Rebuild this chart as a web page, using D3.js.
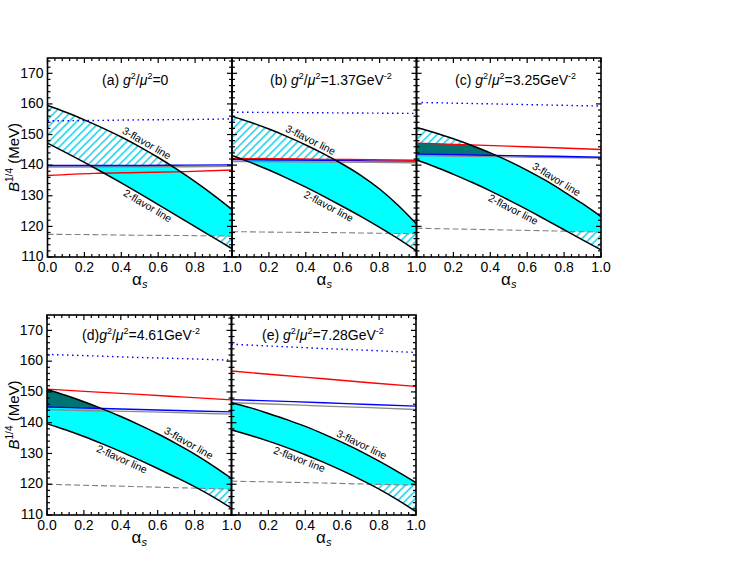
<!DOCTYPE html>
<html><head><meta charset="utf-8">
<script src="https://cdn.jsdelivr.net/npm/d3@7"></script>
<style>body{margin:0;background:#fff} text{font-family:"Liberation Sans",Arial,sans-serif}</style>
</head><body><svg id="c" width="736" height="574"></svg>
<script>
// ---------------- data ----------------
const alphaS = [0, 0.1, 0.2, 0.3, 0.4, 0.5, 0.6, 0.7, 0.8, 0.9, 1.0];
const alphaLine = [0, 0.25, 0.5, 0.75, 1.0];
const panelLetters = ["(a)", "(b)", "(c)", "(d)", "(e)"];
const gSquaredValues = ["0", "1.37", "3.25", "4.61", "7.28"];
const xTickValues = [0, 0.2, 0.4, 0.6, 0.8, 1.0];
const yTickValues = [110, 120, 130, 140, 150, 160, 170];

// 3-flavor and 2-flavor lines (B^1/4 in MeV at alphaS)
const threeFlavorA = [159.5, 157.3, 154.8, 152.1, 149.2, 146.0, 142.5, 138.7, 134.6, 130.2, 125.5];
const twoFlavorA   = [147.2, 144.1, 140.9, 137.6, 134.2, 130.7, 127.1, 123.5, 119.9, 116.3, 112.7];
const threeFlavorB = [156.0, 154.0, 151.8, 149.3, 146.6, 143.6, 140.3, 136.6, 132.2, 126.9, 120.8];
const twoFlavorB   = [143.2, 140.9, 138.4, 135.7, 132.8, 129.7, 126.5, 123.2, 119.7, 116.0, 112.0];
const threeFlavorC = [152.3, 150.6, 148.6, 146.4, 144.0, 141.3, 138.3, 135.0, 131.3, 127.4, 123.2];
const twoFlavorC   = [141.7, 139.5, 137.0, 134.4, 131.6, 128.6, 125.5, 122.2, 118.9, 115.6, 112.3];
const threeFlavorD = [150.8, 148.9, 146.8, 144.5, 142.0, 139.3, 136.4, 133.2, 129.8, 126.0, 121.9];
const twoFlavorD   = [139.7, 137.7, 135.5, 133.1, 130.6, 127.9, 125.1, 122.2, 119.2, 115.9, 112.2];
const threeFlavorE = [146.5, 144.9, 143.0, 141.0, 138.8, 136.3, 133.6, 130.7, 127.5, 124.1, 120.5];
const twoFlavorE   = [137.6, 135.9, 134.0, 131.9, 129.6, 127.1, 124.4, 121.5, 118.4, 114.9, 111.1];

// other lines at alphaLine
const redA    = [136.6, 137.3, 137.6, 137.9, 138.4];
const blueA   = [139.9, 139.9, 139.9, 140.0, 140.1];
const grayA   = [139.4, 139.4, 139.5, 139.5, 139.6];
const dottedA = [154.5, 154.6, 154.8, 154.9, 155.1];
const dashedA = [117.4, 117.3, 117.1, 117.0, 116.8];

const redB    = [142.2, 142.1, 141.9, 141.8, 141.6];
const blueB   = [141.8, 141.7, 141.6, 141.4, 141.3];
const grayB   = [141.2, 141.1, 141.0, 140.9, 140.8];
const dottedB = [157.3, 157.2, 157.1, 157.0, 156.9];
const dashedB = [118.3, 118.1, 118.0, 117.8, 117.6];

const redC    = [147.2, 146.7, 146.2, 145.7, 145.1];
const blueC   = [143.6, 143.4, 143.1, 142.9, 142.6];
const grayC   = [143.1, 142.9, 142.7, 142.5, 142.3];
const dottedC = [160.5, 160.2, 159.9, 159.6, 159.3];
const dashedC = [119.4, 119.1, 118.8, 118.5, 118.1];

const redD    = [150.9, 150.0, 149.2, 148.3, 147.4];
const blueD   = [145.1, 144.7, 144.3, 143.9, 143.5];
const grayD   = [144.3, 143.9, 143.6, 143.2, 142.8];
const dottedD = [162.2, 161.7, 161.2, 160.8, 160.3];
const dashedD = [120.0, 119.6, 119.2, 118.8, 118.4];

const redE    = [156.8, 155.5, 154.3, 153.0, 151.8];
const blueE   = [147.5, 147.0, 146.5, 145.9, 145.4];
const grayE   = [146.5, 146.0, 145.4, 144.9, 144.3];
const dottedE = [165.5, 164.8, 164.1, 163.5, 162.8];
const dashedE = [121.0, 120.7, 120.4, 120.0, 119.7];

const panels = [
  {three: threeFlavorA, two: twoFlavorA, red: redA, blue: blueA, gray: grayA, dotted: dottedA, dashed: dashedA},
  {three: threeFlavorB, two: twoFlavorB, red: redB, blue: blueB, gray: grayB, dotted: dottedB, dashed: dashedB},
  {three: threeFlavorC, two: twoFlavorC, red: redC, blue: blueC, gray: grayC, dotted: dottedC, dashed: dashedC},
  {three: threeFlavorD, two: twoFlavorD, red: redD, blue: blueD, gray: grayD, dotted: dottedD, dashed: dashedD},
  {three: threeFlavorE, two: twoFlavorE, red: redE, blue: blueE, gray: grayE, dotted: dottedE, dashed: dashedE}
];

// ---------------- layout ----------------
const W = 184.5;
const layout = [
  {x0: 47.5, y0: 58, y1: 257, first: true,  titleX: 102, titleY: 85, gap: " "},
  {x0: 232,  y0: 58, y1: 257, first: false, titleX: 270, titleY: 85, gap: " "},
  {x0: 416.5,y0: 58, y1: 257, first: false, titleX: 455, titleY: 85, gap: " "},
  {x0: 47,   y0: 315, y1: 515, first: true, titleX: 82,  titleY: 340, gap: ""},
  {x0: 231.5,y0: 315, y1: 515, first: false,titleX: 262, titleY: 340, gap: " "}
];
// flavor-line label positions along the curves (alpha of label centre)
const labelAlpha = [
  {t3: 0.52, t2: 0.56},
  {t3: 0.41, t2: 0.54},
  {t3: 0.74, t2: 0.54},
  {t3: 0.75, t2: 0.42},
  {t3: 0.69, t2: 0.38}
];

const svg = d3.select("#c");
const defs = svg.append("defs");
const hp = defs.append("pattern").attr("id", "hatch").attr("patternUnits", "userSpaceOnUse")
  .attr("width", 5.5).attr("height", 5.5).attr("patternTransform", "rotate(45)");
hp.append("line").attr("x1", 2.75).attr("y1", -1).attr("x2", 2.75).attr("y2", 6.5)
  .attr("stroke", "#2ed6f0").attr("stroke-width", 1.7);

panels.forEach((p, i) => {
  const L = layout[i];
  const x = d3.scaleLinear().domain([0, 1]).range([L.x0, L.x0 + W]);
  const y = d3.scaleLinear().domain([110, 175]).range([L.y1, L.y0]);
  const g = svg.append("g");

  defs.append("clipPath").attr("id", "plot" + i).append("rect")
    .attr("x", x(0)).attr("y", y(175)).attr("width", W).attr("height", y(110) - y(175));

  const bandArea = d3.area().x((d, j) => x(alphaS[j])).y0((d, j) => y(p.two[j])).y1(d => y(d))
    .curve(d3.curveMonotoneX);
  defs.append("clipPath").attr("id", "band" + i).append("path").attr("d", bandArea(p.three));

  const pg = g.append("g").attr("clip-path", `url(#plot${i})`);
  const bg = pg.append("g").attr("clip-path", `url(#band${i})`);
  bg.append("path").attr("d", bandArea(p.three)).attr("fill", "url(#hatch)");
  const lineArea = (lo, hi) => d3.area().x((d, j) => x(alphaLine[j])).y0((d, j) => y(lo[j]))
    .y1((d, j) => y(hi[j])).curve(d3.curveMonotoneX)(alphaLine);
  bg.append("path").attr("d", lineArea(p.dashed, p.blue)).attr("fill", "#00ffff");
  const upper = p.red.map((r, j) => Math.max(r, p.blue[j]));
  bg.append("path").attr("d", lineArea(p.blue, upper)).attr("fill", "#007373");

  const line = d3.line().x((d, j) => x(alphaLine[j])).y(d => y(d)).curve(d3.curveMonotoneX);
  pg.append("path").attr("d", line(p.dashed)).attr("fill", "none").attr("stroke", "#808080")
    .attr("stroke-width", 1.1).attr("stroke-dasharray", "6,3");
  pg.append("path").attr("d", line(p.dotted)).attr("fill", "none").attr("stroke", "#0000ff")
    .attr("stroke-width", 1.4).attr("stroke-dasharray", "1.5,3.5");
  pg.append("path").attr("d", line(p.gray)).attr("fill", "none").attr("stroke", "#8c8c8c").attr("stroke-width", 1.4);
  pg.append("path").attr("d", line(p.blue)).attr("fill", "none").attr("stroke", "#0000ff").attr("stroke-width", 1.4);
  pg.append("path").attr("d", line(p.red)).attr("fill", "none").attr("stroke", "#ff0000").attr("stroke-width", 1.4);

  const fline = d3.line().x((d, j) => x(alphaS[j])).y(d => y(d)).curve(d3.curveMonotoneX);
  pg.append("path").attr("d", fline(p.three)).attr("fill", "none").attr("stroke", "#000").attr("stroke-width", 1.5);
  pg.append("path").attr("d", fline(p.two)).attr("fill", "none").attr("stroke", "#000").attr("stroke-width", 1.5);

  // flavor labels placed along the curves
  const onCurve = (arr, a) => {
    const j = Math.min(alphaS.length - 2, Math.floor(a * 10));
    const t = (a - alphaS[j]) / (alphaS[j + 1] - alphaS[j]);
    const px0 = x(alphaS[j]), py0 = y(arr[j]), px1 = x(alphaS[j + 1]), py1 = y(arr[j + 1]);
    return {px: px0 + t * (px1 - px0), py: py0 + t * (py1 - py0),
            ang: Math.atan2(py1 - py0, px1 - px0) * 180 / Math.PI};
  };
  const A = labelAlpha[i];
  [[p.three, A.t3, "3-flavor line", -3], [p.two, A.t2, "2-flavor line", 10]].forEach(([arr, a, txt, dy]) => {
    const c = onCurve(arr, a);
    g.append("text").attr("transform", `translate(${c.px},${c.py}) rotate(${c.ang})`)
      .attr("text-anchor", "middle").attr("y", dy).attr("font-size", 10.5).text(txt);
  });

  // frame
  g.append("rect").attr("x", x(0)).attr("y", y(175)).attr("width", W).attr("height", y(110) - y(175))
    .attr("fill", "none").attr("stroke", "#000").attr("stroke-width", 1.6);

  // ticks (inside, all sides)
  const xMinor = d3.range(0, 1.0001, 0.04);
  const yMinor = d3.range(110, 175.01, 2);
  const tk = g.append("g").attr("stroke", "#000").attr("stroke-width", 1.2);
  xMinor.forEach(v => {
    const isMaj = xTickValues.some(t => Math.abs(t - v) < 1e-6);
    const len = isMaj ? 5 : 3;
    tk.append("line").attr("x1", x(v)).attr("x2", x(v)).attr("y1", y(110)).attr("y2", y(110) - len);
    tk.append("line").attr("x1", x(v)).attr("x2", x(v)).attr("y1", y(175)).attr("y2", y(175) + len);
  });
  yMinor.forEach(v => {
    const isMaj = yTickValues.includes(Math.round(v));
    const len = isMaj ? 5 : 3;
    tk.append("line").attr("y1", y(v)).attr("y2", y(v)).attr("x1", x(0)).attr("x2", x(0) + len);
    tk.append("line").attr("y1", y(v)).attr("y2", y(v)).attr("x1", x(1)).attr("x2", x(1) - len);
  });

  // x tick labels
  xTickValues.forEach(v => {
    if (!L.first && v === 0) return;
    g.append("text").attr("x", x(v)).attr("y", y(110) + 15).attr("text-anchor", "middle")
      .attr("font-size", 14).text(d3.format(".1f")(v));
  });
  // y tick labels
  if (L.first) {
    yTickValues.forEach(v => {
      g.append("text").attr("x", x(0) - 4).attr("y", y(v)).attr("dy", "0.3em").attr("text-anchor", "end")
        .attr("font-size", 14).text(v);
    });
    const yl = g.append("text").attr("transform", `translate(19,${(L.y0 + L.y1) / 2}) rotate(-90)`)
      .attr("text-anchor", "middle").attr("font-size", 15);
    yl.append("tspan").attr("font-style", "italic").text("B");
    yl.append("tspan").attr("font-size", 10).attr("dy", -6).text("1/4");
    yl.append("tspan").attr("dy", 6).text(" (MeV)");
  }
  // x axis label
  const xl = g.append("text").attr("x", x(0.5)).attr("y", y(110) + 28).attr("text-anchor", "middle").attr("font-size", 17);
  xl.append("tspan").text("α");
  xl.append("tspan").attr("font-size", 11).attr("font-style", "italic").attr("dy", 3).text("s");

  // title
  const t = g.append("text").attr("x", L.titleX).attr("y", L.titleY).attr("font-size", 14);
  t.append("tspan").text(panelLetters[i] + L.gap);
  t.append("tspan").attr("font-style", "italic").text("g");
  t.append("tspan").attr("font-size", 9).attr("dy", -6).text("2");
  t.append("tspan").attr("dy", 6).text("/");
  t.append("tspan").attr("font-style", "italic").text("μ");
  t.append("tspan").attr("font-size", 9).attr("dy", -6).text("2");
  if (i === 0) {
    t.append("tspan").attr("dy", 6).text("=0");
  } else {
    t.append("tspan").attr("dy", 6).text("=" + gSquaredValues[i] + "GeV");
    t.append("tspan").attr("font-size", 9).attr("dy", -6).text("-2");
  }
});
</script>
</body></html>
